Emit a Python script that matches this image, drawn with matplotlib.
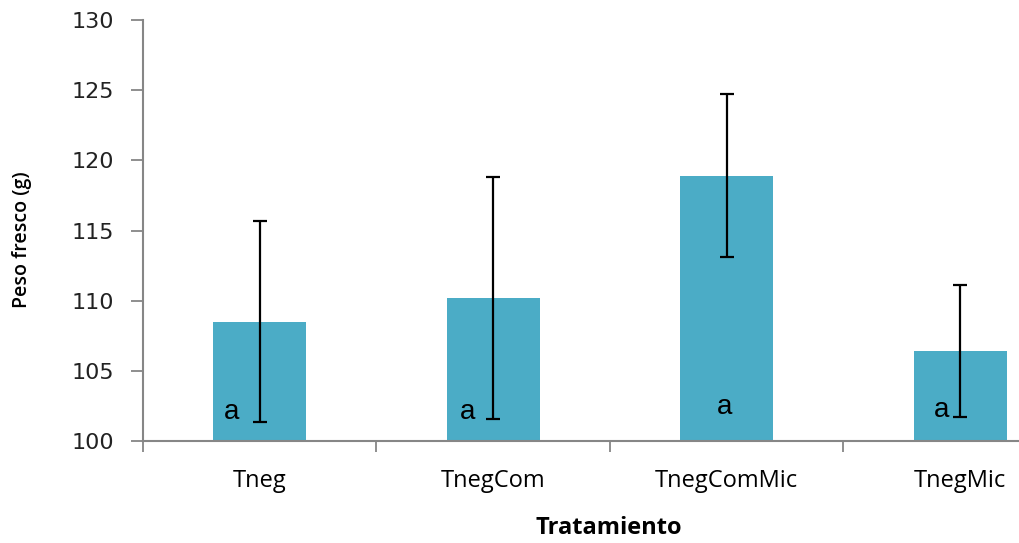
import numpy as np
import matplotlib
matplotlib.use('Agg')
import matplotlib.pyplot as plt

# treatment means and error bar half-widths
tratamientos = ['Tneg', 'TnegCom', 'TnegComMic', 'TnegMic']
peso = [108.5, 110.2, 118.9, 106.4]
error = [7.15, 8.65, 5.8, 4.7]
letras = ['a', 'a', 'a', 'a']
letra_dx = [-0.12, -0.11, -0.01, -0.08]
letra_y = [102.1, 102.1, 102.4, 102.2]

grey = '#868686'

fig = plt.figure(figsize=(10.19, 5.43), dpi=100)
ax = fig.add_axes([0.1403, 0.1878, 0.9166, 0.7753])

x = np.arange(len(tratamientos))
ax.bar(x, peso, width=0.4, color='#4bacc6', zorder=2)
ax.errorbar(x, peso, yerr=error, fmt='none', ecolor='black',
            elinewidth=1.6, capsize=5, capthick=1.6, zorder=3)

for i, t in enumerate(letras):
    ax.text(x[i] + letra_dx[i], letra_y[i], t, ha='center', va='center',
            fontsize=20, family='Liberation Sans', zorder=4)

ax.set_xlim(-0.5, 3.5)
ax.set_ylim(100, 130)
ax.set_yticks(np.arange(100, 131, 5))

# category labels at bar centres, tick marks at category boundaries
ax.set_xticks(x)
ax.set_xticklabels(tratamientos, family='Open Sans', fontsize=17)
ax.set_xticks(np.arange(-0.5, 3.5, 1), minor=True)
ax.tick_params(axis='x', which='major', length=0, pad=20)
ax.tick_params(axis='x', which='minor', length=8, width=1.3, color=grey)
ax.tick_params(axis='y', length=9, width=1.3, color=grey, pad=12,
               labelsize=16, labelcolor='#222222')

for s in ['top', 'right']:
    ax.spines[s].set_visible(False)
for s in ['left', 'bottom']:
    ax.spines[s].set_color(grey)
    ax.spines[s].set_linewidth(1.5)

fig.text(0.1403 + 0.9166 / 2 - 0.001, 0.027, 'Tratamiento', ha='center',
         va='center', fontsize=17, fontweight='bold', family='Open Sans')
fig.text(0.022, 0.558, 'Peso fresco (g)', rotation=90, ha='center',
         va='center', fontsize=14, family='Open Sans', fontweight='semibold')

fig.savefig('out.png', dpi=100)
